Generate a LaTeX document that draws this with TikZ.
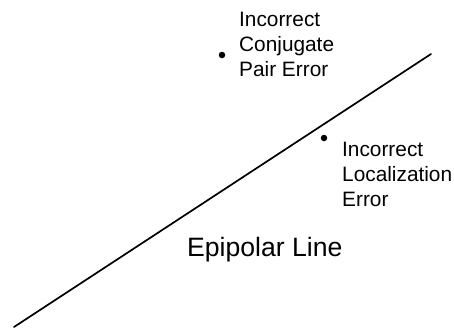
\documentclass[tikz,border=0pt]{standalone}
\usepackage{fontspec}
\setmainfont{Liberation Sans}
\usetikzlibrary{positioning}

\begin{document}
\begin{tikzpicture}[x=1bp,y=-1bp,
  dot/.style={circle,fill=black,inner sep=0pt,minimum size=6.5bp},
  lbl/.style={inner sep=0pt,align=left,font=\fontsize{20.9}{25.1}\selectfont},
  epline/.style={line width=1.7bp,line cap=round}]
  \useasboundingbox (0,0) rectangle (454,329);
  \coordinate (lstart) at (14,327);
  \coordinate (lend) at (431,54);
  \draw[epline] (lstart)--(lend);
  \node[dot] (cpdot) at (222,55) {};
  \node[dot] (locdot) at (324,138) {};
  \node[lbl,anchor=north west] (cplabel) at (239,12) {Incorrect\\Conjugate\\Pair Error};
  \node[lbl,anchor=north west] (loclabel) at (342,142) {Incorrect\\Localization\\Error};
  \node[inner sep=0pt,anchor=base west,font=\fontsize{26.7}{30}\selectfont] (eplabel) at (187,256) {Epipolar Line};
\end{tikzpicture}
\end{document}
